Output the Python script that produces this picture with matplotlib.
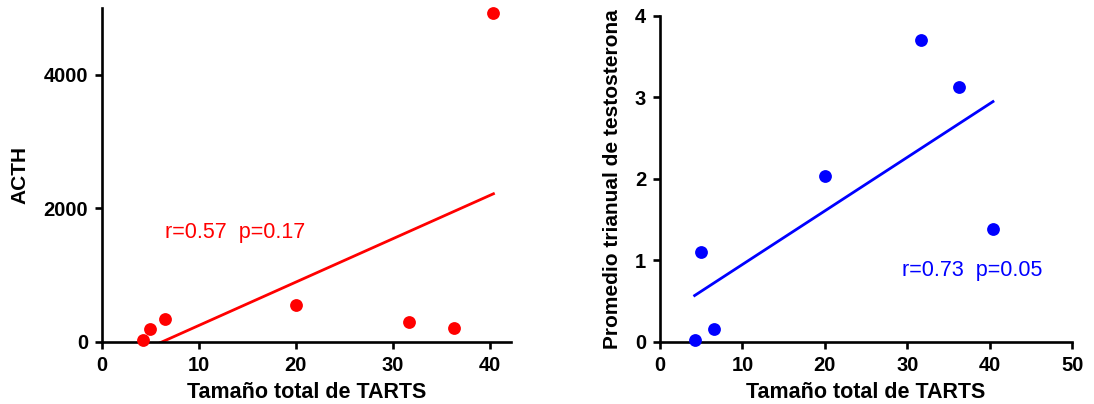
import numpy as np
import matplotlib
matplotlib.use("Agg")
import matplotlib.pyplot as plt

plt.rcParams['font.family'] = ['Liberation Sans', 'DejaVu Sans']

# datos
tarts = [4.2, 5.0, 6.5, 20.0, 31.7, 36.3, 40.4]
acth = [30, 190, 340, 550, 300, 210, 4920]
testosterona = [0.02, 1.1, 0.16, 2.03, 3.70, 3.12, 1.39]

xlabel = "Tamaño total de TARTS"
rojo = "#FF0000"
azul = "#0000FF"


def estilo(ax):
    for s in ['top', 'right']:
        ax.spines[s].set_visible(False)
    for s in ['left', 'bottom']:
        ax.spines[s].set_linewidth(1.9)
        ax.spines[s].set_color('black')
    ax.tick_params(axis='both', direction='out', length=5, width=1.9,
                   labelsize=14.5, pad=5)
    for lab in ax.get_xticklabels() + ax.get_yticklabels():
        lab.set_fontweight('bold')


def recta(ax, x, y, color):
    m, b = np.polyfit(x, y, 1)
    xs = np.array([min(x), max(x)])
    ax.plot(xs, m * xs + b, color=color, linewidth=2)


fig = plt.figure(figsize=(10.94, 4.04), dpi=100)

# panel izquierdo: ACTH
ax1 = fig.add_axes([0.0932, 0.1535, 0.3738, 0.8265])
recta(ax1, tarts, acth, rojo)
ax1.scatter(tarts, acth, s=85, color=rojo, zorder=3, clip_on=False, linewidths=0)
ax1.set_xlim(0, 42.2)
ax1.set_ylim(0, 5000)
ax1.set_xticks([0, 10, 20, 30, 40])
ax1.set_yticks([0, 2000, 4000])
estilo(ax1)
ax1.set_xlabel(xlabel, fontsize=15.5, fontweight='bold', labelpad=5)
ax1.set_ylabel("ACTH", fontsize=15, fontweight='bold', labelpad=10)
ax1.text(6.5, 1640, "r=0.57  p=0.17", color=rojo, fontsize=15.5, va='center')

# panel derecho: testosterona
ax2 = fig.add_axes([0.6033, 0.1535, 0.3767, 0.8076])
recta(ax2, tarts, testosterona, azul)
ax2.scatter(tarts, testosterona, s=85, color=azul, zorder=3, clip_on=False, linewidths=0)
ax2.set_xlim(0, 50)
ax2.set_ylim(0, 4)
ax2.set_xticks([0, 10, 20, 30, 40, 50])
ax2.set_yticks([0, 1, 2, 3, 4])
estilo(ax2)
ax2.set_xlabel(xlabel, fontsize=15.5, fontweight='bold', labelpad=5)
ax2.set_ylabel("Promedio trianual de testosterona", fontsize=15,
               fontweight='bold', labelpad=9)
ax2.text(29.3, 0.88, "r=0.73  p=0.05", color=azul, fontsize=15.5, va='center')

fig.savefig("out.png", dpi=100)
